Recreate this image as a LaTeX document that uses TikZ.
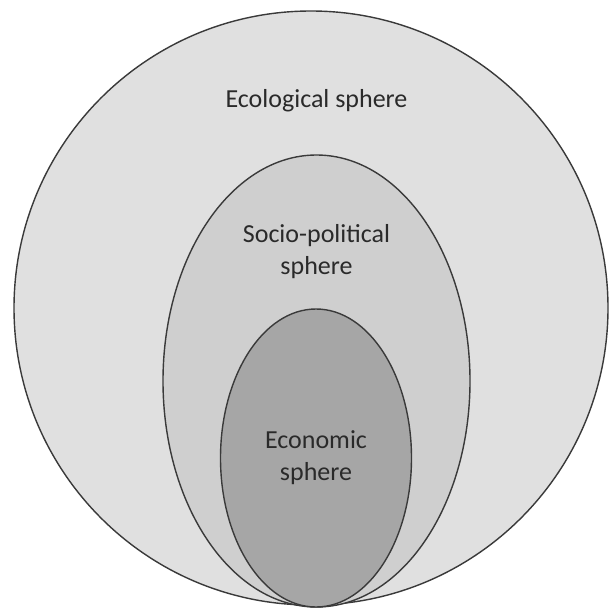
\documentclass[tikz,border=0pt]{standalone}
\usepackage{fontspec}
\setmainfont{Carlito}
\definecolor{outerfill}{HTML}{E0E0E0}
\definecolor{midfill}{HTML}{CFCFCF}
\definecolor{innerfill}{HTML}{A6A6A6}
\definecolor{edge}{HTML}{3A3A3A}
\definecolor{txt}{HTML}{2A2A2A}
\begin{document}
\begin{tikzpicture}[x=1pt,y=-1pt,
  sphereshape/.style={draw=edge,line width=1.4pt},
  lbl/.style={text=txt,align=center,font=\fontsize{26}{32.5}\selectfont}]
\useasboundingbox (0,0) rectangle (609,613);
\fill[white] (0,0) rectangle (609,613);
\draw[sphereshape,fill=outerfill] (311,308) ellipse [x radius=297,y radius=297];
\draw[sphereshape,fill=midfill] (316.5,381) ellipse [x radius=153.5,y radius=226];
\draw[sphereshape,fill=innerfill] (316,458) ellipse [x radius=95.5,y radius=149];
\node[lbl] (eco) at (316.5,101) {Ecological sphere};
\node[lbl] (soc) at (316.5,251.5) {Socio-political\\sphere};
\node[lbl] (econ) at (316,457.5) {Economic\\sphere};
\end{tikzpicture}
\end{document}
